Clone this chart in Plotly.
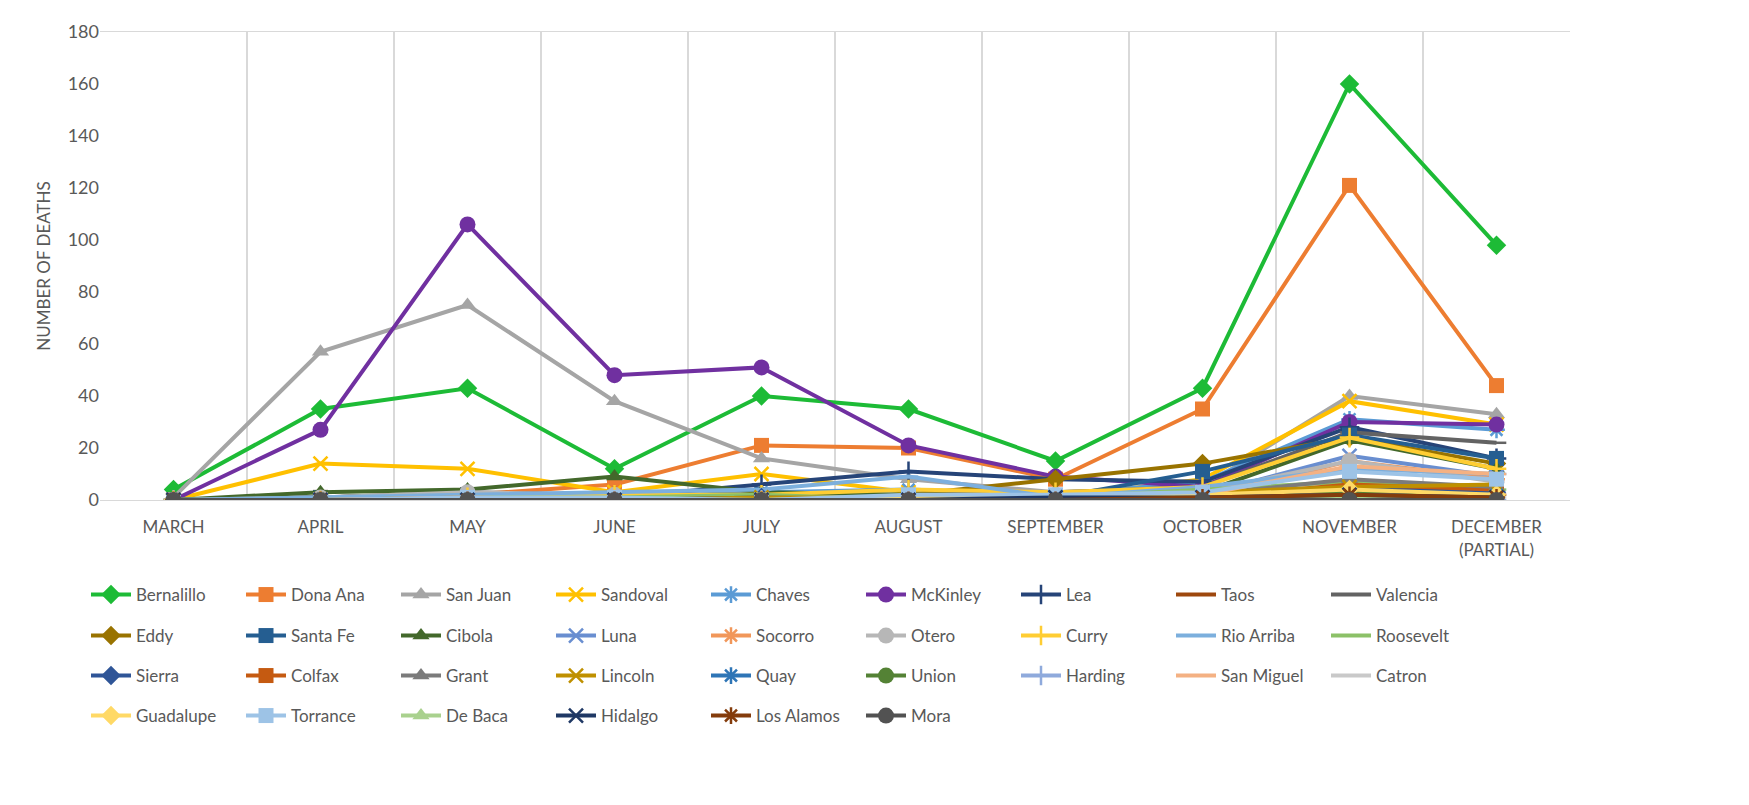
import plotly.graph_objects as go

months = ["MARCH", "APRIL", "MAY", "JUNE", "JULY", "AUGUST", "SEPTEMBER",
          "OCTOBER", "NOVEMBER", "DECEMBER<br>(PARTIAL)"]

counties = ["Bernalillo", "Dona Ana", "San Juan", "Sandoval", "Chaves", "McKinley", "Lea", "Taos", "Valencia",
            "Eddy", "Santa Fe", "Cibola", "Luna", "Socorro", "Otero", "Curry", "Rio Arriba", "Roosevelt",
            "Sierra", "Colfax", "Grant", "Lincoln", "Quay", "Union", "Harding", "San Miguel", "Catron",
            "Guadalupe", "Torrance", "De Baca", "Hidalgo", "Los Alamos", "Mora"]

bernalillo = [4, 35, 43, 12, 40, 35, 15, 43, 160, 98]
dona_ana   = [0, 1, 2, 6, 21, 20, 8, 35, 121, 44]
san_juan   = [1, 57, 75, 38, 16, 8, 3, 5, 40, 33]
sandoval   = [0, 14, 12, 3, 10, 3, 1, 8, 38, 29]
chaves     = [0, 1, 2, 1, 3, 4, 2, 7, 31, 27]
mckinley   = [0, 27, 106, 48, 51, 21, 9, 5, 30, 29]
lea        = [0, 0, 1, 1, 6, 11, 8, 7, 28, 16]
taos       = [0, 0, 0, 0, 0, 0, 0, 1, 3, 2]
valencia   = [0, 1, 3, 2, 1, 2, 3, 5, 26, 22]
eddy       = [0, 1, 2, 2, 2, 2, 8, 14, 24, 14]
santa_fe   = [0, 1, 2, 1, 2, 1, 1, 11, 25, 16]
cibola     = [0, 3, 4, 9, 3, 2, 2, 3, 23, 12]
luna       = [0, 0, 1, 0, 1, 1, 1, 2, 17, 9]
socorro    = [0, 0, 1, 0, 0, 1, 0, 1, 15, 8]
otero      = [0, 1, 3, 2, 1, 1, 2, 3, 15, 7]
curry      = [0, 0, 1, 2, 2, 4, 3, 5, 24, 12]
rio_arriba = [0, 1, 2, 3, 4, 9, 1, 5, 12, 10]
roosevelt  = [0, 0, 1, 1, 2, 0, 1, 4, 7, 4]
sierra     = [0, 0, 0, 0, 1, 0, 0, 1, 5, 3]
colfax     = [0, 0, 0, 0, 0, 0, 0, 1, 6, 4]
grant      = [0, 0, 1, 0, 0, 1, 1, 2, 8, 5]
lincoln    = [0, 0, 0, 0, 1, 1, 1, 3, 5, 6]
quay       = [0, 0, 0, 0, 0, 0, 1, 1, 3, 2]
union      = [0, 0, 0, 0, 0, 0, 0, 1, 3, 1]
harding    = [0, 0, 0, 0, 0, 0, 0, 0, 1, 0]
san_miguel = [0, 0, 1, 0, 0, 0, 1, 2, 13, 10]
catron     = [0, 0, 0, 0, 0, 0, 0, 1, 2, 1]
guadalupe  = [0, 0, 0, 0, 0, 1, 0, 2, 4, 2]
torrance   = [0, 0, 1, 1, 0, 2, 2, 3, 11, 8]
de_baca    = [0, 0, 0, 0, 0, 0, 0, 0, 1, 0]
hidalgo    = [0, 0, 0, 0, 0, 0, 1, 1, 2, 1]
los_alamos = [0, 0, 0, 0, 0, 0, 0, 1, 2, 1]
mora       = [0, 0, 0, 0, 0, 0, 0, 0, 0, 0]

series = [bernalillo, dona_ana, san_juan, sandoval, chaves, mckinley, lea, taos, valencia,
          eddy, santa_fe, cibola, luna, socorro, otero, curry, rio_arriba, roosevelt,
          sierra, colfax, grant, lincoln, quay, union, harding, san_miguel, catron,
          guadalupe, torrance, de_baca, hidalgo, los_alamos, mora]

colors = ["#1DBB36", "#ED7D31", "#A5A5A5", "#FFC000", "#5B9BD5", "#7030A0", "#264478", "#9E480E", "#636363",
          "#997300", "#255E91", "#43682B", "#698ED0", "#F1975A", "#B7B7B7", "#FFCD33", "#7CAFDD", "#8CC168",
          "#2F5597", "#C55A11", "#7B7B7B", "#BF9000", "#2E75B6", "#548235", "#8FAADC", "#F4B183", "#C9C9C9",
          "#FFD966", "#9DC3E6", "#A9D18E", "#1F3864", "#843C0C", "#525252"]

cycle = [("diamond", 15), ("square", 15), ("triangle-up", 15), ("x-thin-open", 14), ("asterisk-open", 14),
         ("circle", 16), ("cross-thin-open", 14), ("line-ew-open", 14), ("line-ew-open", 14)]

fig = go.Figure()
x = list(range(len(months)))
for i, (name, vals, col) in enumerate(zip(counties, series, colors)):
    sym, sz = cycle[i % 9]
    open_sym = sym.endswith("open")
    row = i // 9
    fig.add_trace(go.Scatter(
        x=x, y=vals, name=name, mode="lines+markers",
        line=dict(color=col, width=4),
        marker=dict(symbol=sym, size=sz, color=col,
                    line=dict(color=col, width=2.5 if open_sym else 0)),
        legend="legend" if row == 0 else f"legend{row+1}",
    ))

W, H = 1749, 805
row_y = [587, 628, 668, 708, 749]
legend_font = dict(family="Lato, Open Sans, sans-serif", size=17, color="#595959")
layout_legends = {}
for r, yc in enumerate(row_y):
    key = "legend" if r == 0 else f"legend{r+1}"
    layout_legends[key] = dict(
        orientation="h", xref="container", yref="container",
        x=78 / W, y=1 - yc / H, xanchor="left", yanchor="middle",
        entrywidth=100, entrywidthmode="pixels",
        font=legend_font, bgcolor="rgba(0,0,0,0)", itemwidth=40,
        tracegroupgap=0,
    )

fig.update_layout(
    width=W, height=H,
    paper_bgcolor="white", plot_bgcolor="white",
    margin=dict(l=92, r=W - 1562, t=12, b=H - 492),
    font=dict(family="Lato, Open Sans, sans-serif", color="#595959"),
    xaxis=dict(
        type="category", tickmode="array", tickvals=x, ticktext=months,
        range=[-0.5, 9.5], tickson="boundaries", showgrid=True, gridcolor="#D9D9D9", gridwidth=1.5,
        ticks="", showline=True, linecolor="#D9D9D9", mirror=True,
        tickfont=dict(size=17, color="#595959", family="Lato, Open Sans, sans-serif"),
        ticklabelstandoff=12,
    ),
    yaxis=dict(
        range=[0, 180], dtick=20, showgrid=False, zeroline=False,
        showline=False, ticks="",
        tickfont=dict(size=18, color="#595959", family="Lato, Open Sans, sans-serif"),
        title=dict(text="NUMBER OF DEATHS", font=dict(size=17, color="#595959"), standoff=12),
    ),
    **layout_legends,
)

fig.write_html("out.html")
